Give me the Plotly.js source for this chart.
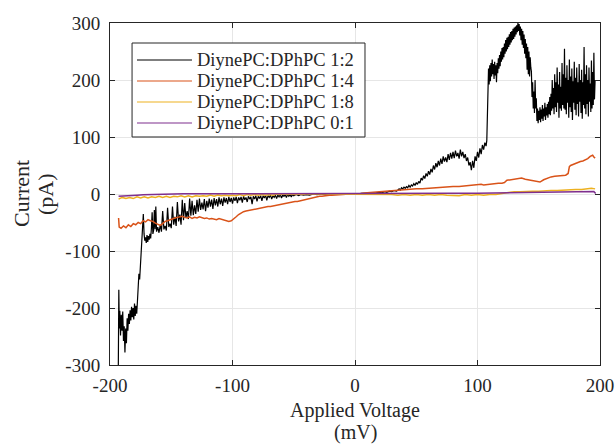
<!DOCTYPE html>
<html>
<head>
<meta charset="utf-8">
<script src="https://cdn.plot.ly/plotly-3.0.1.min.js"></script>
<style>
  html, body { margin: 0; padding: 0; background: #ffffff; }
  #chart { width: 616px; height: 445px; }
</style>
</head>
<body>
<div id="chart"></div>
<script>
// Current–voltage sweeps for DiynePC:DPhPC membranes at different ratios.

const seriesNames = ["DiynePC:DPhPC 1:2", "DiynePC:DPhPC 1:4", "DiynePC:DPhPC 1:8", "DiynePC:DPhPC 0:1"];
const seriesColors = ["#000000", "#D95319", "#EDB120", "#7E2F8E"];

const xTicks = [-200, -100, 0, 100, 200];
const yTicks = [-300, -200, -100, 0, 100, 200, 300];

const xTitleLines = ["Applied Voltage", "(mV)"];
const yTitleLines = ["Current", "(pA)"];

// 1:2 ratio — applied voltage (mV)
const v12 = [
  -193.2, -192.8, -192.4, -192, -191.4, -190.8, -190.2, -189.6, -189, -188.4,
  -187.8, -187.2, -186.6, -186, -185.4, -184.8, -184.2, -183.6, -183, -182.4,
  -181.8, -181.2, -180.6, -180, -179.4, -178.8, -178.2, -177.6, -177, -176.4,
  -175.8, -175.2, -174.6, -174, -173.4, -172.8, -172.2, -171.6, -171, -170.4,
  -169.8, -169.2, -168.6, -168, -167.4, -166.8, -166.2, -165.6, -165, -164.4,
  -163.8, -163.2, -162.6, -162, -161, -160, -159, -158, -157, -156,
  -155, -154, -153, -152, -151, -150, -149, -148, -147, -146,
  -145, -144, -143, -142, -141, -140, -139, -138, -137, -136,
  -135, -134, -133, -132, -131, -130, -129, -128, -127, -126,
  -125, -124, -123, -122, -121, -120, -119, -118, -117, -116,
  -115, -114, -113, -112, -111, -110, -109, -108, -107, -106,
  -105, -104, -103, -102, -101, -100, -99, -98, -97, -96,
  -95, -94, -93, -92, -91, -90, -89, -88, -87, -86,
  -85, -84, -83, -82, -81, -80, -79, -78, -77, -76,
  -75, -74, -73, -72, -71, -70, -69, -68, -67, -66,
  -65, -64, -63, -62, -61, -60, -59, -58, -57, -56,
  -55, -54, -53, -52, -51, -50, -48, -46, -44, -42,
  -40, -37, -34, -31, -28, -25, -22, -19, -16, -13,
  -10, -7, -4, -1, 2, 5, 8, 11, 14, 17,
  20, 22, 24, 26, 28, 30, 32, 34, 36, 37,
  38, 39, 40, 41, 42, 43, 44, 45, 46, 47,
  48, 49, 50, 51, 52, 53, 54, 55, 56, 57,
  58, 59, 60, 61, 62, 63, 64, 65, 66, 67,
  68, 69, 70, 71, 72, 73, 74, 75, 76, 77,
  78, 79, 80, 81, 82, 83, 84, 85, 86, 87,
  88, 89, 90, 91, 92, 93, 94, 95, 96, 97,
  98, 99, 100, 101, 102, 103, 104, 105, 106, 107,
  107.6, 108.2, 108.6, 109, 109.5, 110, 110.5, 111, 111.5, 112,
  112.5, 113, 113.5, 114, 114.5, 115, 115.5, 116, 116.5, 117,
  117.5, 118, 118.5, 119, 119.5, 120, 120.5, 121, 121.5, 122,
  122.5, 123, 123.5, 124, 124.5, 125, 125.5, 126, 126.5, 127,
  127.5, 128, 128.5, 129, 129.5, 130, 130.5, 131, 131.5, 132,
  132.5, 133, 133.5, 134, 134.5, 135, 135.5, 136, 136.5, 137,
  137.5, 138, 138.5, 139, 139.5, 140, 140.5, 141, 141.5, 142,
  142.5, 143, 143.5, 144, 144.5, 145, 145.5, 146, 146.5, 147,
  147.5, 148, 148.5, 149, 149.5, 150, 150.5, 151, 151.5, 152,
  152.5, 153, 153.5, 154, 154.5, 155, 155.5, 156, 156.5, 157,
  157.5, 158, 158.5, 159, 159.5, 160, 160.5, 161, 161.5, 162,
  162.5, 163, 163.5, 164, 164.5, 165, 165.5, 166, 166.5, 167,
  167.5, 168, 168.5, 169, 169.5, 170, 170.5, 171, 171.5, 172,
  172.5, 173, 173.5, 174, 174.5, 175, 175.5, 176, 176.5, 177,
  177.5, 178, 178.5, 179, 179.5, 180, 180.5, 181, 181.5, 182,
  182.5, 183, 183.5, 184, 184.5, 185, 185.5, 186, 186.5, 187,
  187.5, 188, 188.5, 189, 189.5, 190, 190.5, 191, 191.5, 192,
  192.5, 193, 193.5, 194, 194.5, 195, 195.5, 196
];
// 1:2 ratio — current (pA)
const i12 = [
  -300, -168, -236, -205, -248, -212, -240, -206, -258, -232,
  -278, -236, -262, -218, -240, -210, -228, -204, -222, -198,
  -216, -200, -220, -192, -214, -196, -210, -188, -170, -140,
  -150, -128, -100, -84, -40, -35, -70, -82, -76, -86,
  -72, -84, -74, -80, -70, -78, -60, -32, -70, -64,
  -28, -62, -22, -66, -58, -68, -54, -66, -30, -62,
  -56, -64, -24, -58, -52, -60, -22, -54, -40, -56,
  -14, -48, -36, -54, -10, -46, -16, -42, -30, -44,
  -8, -38, -12, -37, -20, -35, -10, -31, -8, -28,
  -15, -27, -9, -30, -12, -24, -8, -22, -10, -26,
  -7, -20, -9, -22, -6, -18, -8, -21, -6, -15,
  -7, -18, -5, -14, -7, -17, -6, -12, -5, -16,
  -6, -11, -5, -15, -4, -10, -6, -14, -4, -9,
  -5, -18, -4, -9, -3, -13, -4, -8, -3, -12,
  -3, -7, -2, -11, -3, -6, -2, -9, -3, -6,
  -2, -8, -2, -5, -1, -7, -2, -4, -1, -6,
  -1, -4, -1, -5, -1, -3, -1, -3, -1, -2,
  -1, -2, 0, -1, 0, -1, 0, 0, -1, 0,
  0, 0, 0, 0, 0, 1, 1, 1, 2, 2,
  3, 2, 4, 3, 5, 4, 6, 5, 9, 7,
  11, 9, 12, 10, 13, 11, 15, 12, 16, 14,
  18, 15, 20, 17, 22, 19, 28, 24, 32, 27,
  36, 31, 40, 34, 44, 38, 50, 43, 54, 47,
  58, 50, 62, 53, 66, 57, 64, 56, 70, 60,
  72, 62, 74, 63, 76, 66, 72, 62, 78, 66,
  74, 63, 70, 58, 64, 50, 56, 42, 58, 46,
  66, 58, 74, 64, 80, 70, 86, 78, 90, 84,
  94, 150, 196, 220, 192, 226, 198, 230, 206, 236,
  210, 228, 202, 232, 208, 226, 196, 230, 212, 238,
  220, 244, 224, 250, 232, 256, 236, 258, 240, 264,
  246, 270, 250, 274, 254, 276, 258, 280, 262, 284,
  266, 286, 270, 290, 272, 292, 276, 294, 280, 296,
  284, 300, 286, 298, 278, 294, 270, 290, 262, 286,
  256, 280, 246, 272, 238, 264, 218, 258, 210, 250,
  206, 240, 222, 215, 170, 196, 150, 180, 142, 200,
  150, 168, 128, 150, 124, 146, 130, 152, 126, 148,
  132, 156, 128, 150, 136, 160, 130, 152, 138, 158,
  134, 162, 140, 170, 138, 176, 146, 200, 150, 186,
  140, 210, 152, 196, 144, 222, 160, 192, 134, 214,
  150, 188, 146, 230, 156, 210, 150, 255, 148, 204,
  140, 226, 160, 200, 134, 236, 152, 206, 144, 220,
  130, 198, 160, 232, 148, 204, 138, 222, 158, 196,
  136, 228, 162, 200, 142, 218, 132, 196, 156, 258,
  150, 210, 140, 226, 158, 200, 136, 222, 162, 194,
  144, 234, 150, 214, 156, 248, 166, 200
];

// 1:4 ratio
const v14 = [
  -193, -192.5, -191, -189, -187, -185, -183, -181, -179, -177,
  -175, -173, -171, -169, -167, -165, -163, -161, -159, -157,
  -155, -153, -151, -149, -147, -145, -143, -141, -139, -137,
  -135, -133, -131, -129, -127, -125, -123, -121, -119, -117,
  -115, -113, -111, -109, -107, -105, -103, -101, -99, -97,
  -95, -93, -91, -89, -87, -85, -83, -81, -79, -77,
  -75, -73, -71, -69, -67, -65, -63, -61, -59, -57,
  -55, -53, -51, -49, -47, -45, -43, -41, -39, -37,
  -35, -33, -31, -29, -27, -25, -23, -21, -19, -17,
  -15, -13, -10, -5, 0, 5, 10, 15, 20, 25,
  30, 35, 40, 45, 50, 55, 60, 65, 70, 75,
  80, 85, 90, 95, 100, 103, 105, 108, 111, 114,
  117, 120, 122, 124, 127, 130, 133, 136, 139, 142,
  145, 148, 151, 154, 157, 160, 163, 166, 169, 172,
  174, 175, 176, 178, 180, 182, 184, 186, 188, 190,
  192, 194, 195, 196
];
const i14 = [
  -42, -58, -60, -56, -59, -54, -57, -52, -54, -50,
  -52, -47, -49, -45, -47, -48, -51, -53, -55, -52,
  -48, -47, -45, -44, -42, -41, -40, -39, -41, -42,
  -40, -43, -41, -42, -40, -41, -43, -42, -44, -43,
  -44, -45, -43, -44, -45, -46, -48, -47, -44, -40,
  -36, -33, -31, -30, -29, -28, -27, -26, -25, -25,
  -24, -23, -22, -22, -21, -20, -19, -18, -18, -17,
  -16, -15, -14, -13, -13, -12, -10, -9, -8, -7,
  -6, -5, -5, -4, -4, -3, -3, -2, -2, -2,
  -1, -1, -1, 0, 0, 1, 2, 3, 4, 5,
  5, 6, 7, 8, 9, 9, 10, 11, 11, 12,
  13, 13, 14, 15, 16, 17, 16, 17, 18, 18,
  19, 19, 20, 24, 25, 26, 27, 28, 26, 25,
  24, 22, 21, 25, 28, 30, 31, 32, 33, 33,
  36, 48, 50, 52, 54, 55, 57, 58, 60, 62,
  66, 68, 65, 63
];

// 1:8 ratio
const v18 = [
  -193, -190, -187, -184, -181, -178, -175, -172, -169, -166,
  -163, -160, -157, -154, -151, -148, -145, -142, -139, -136,
  -133, -130, -127, -124, -121, -118, -115, -112, -109, -106,
  -103, -100, -97, -94, -91, -88, -85, -82, -79, -76,
  -73, -70, -67, -64, -61, -58, -55, -52, -49, -46,
  -43, -40, -35, -30, -25, -20, -15, -10, -5, 0,
  5, 10, 15, 20, 25, 30, 35, 40, 45, 50,
  55, 60, 65, 70, 75, 80, 85, 90, 95, 100,
  105, 110, 115, 120, 125, 130, 135, 140, 145, 150,
  155, 160, 165, 170, 175, 180, 185, 190, 193, 196
];
const i18 = [
  -9, -6, -8, -6, -8, -5, -7, -5, -7, -5,
  -6, -4, -6, -4, -6, -4, -5, -3, -5, -3,
  -5, -3, -4, -3, -4, -2, -4, -2, -3, -2,
  -3, -2, -3, -1, -3, -1, -2, -1, -2, -1,
  -2, -1, -2, 0, -1, 0, -1, 0, -1, 0,
  -1, 0, 0, 0, -1, 0, 0, -1, 0, 0,
  -1, 0, -1, 0, -1, -1, -2, -1, -2, -1,
  -2, -1, -2, -1, -2, -2, -3, -1, -2, -1,
  -2, -1, -1, 1, 3, 4, 4, 5, 5, 5,
  6, 6, 6, 7, 7, 8, 8, 9, 10, 9
];

// 0:1 ratio (pure DPhPC)
const v01 = [
  -193, -188, -183, -178, -173, -168, -163, -158, -153, -148,
  -140, -130, -120, -100, -80, -60, -40, -20, 0, 20,
  40, 60, 80, 100, 120, 140, 160, 180, 190, 195, 196.5
];
const i01 = [
  -4, -3, -2.5, -2, -1.5, -1, -0.6, -0.3, 0, 0.2,
  0.3, 0.3, 0.2, 0.2, 0.1, 0.1, 0, 0, 0, 0.3,
  0.6, 0.9, 1.2, 1.5, 2, 2.5, 3, 3.6, 4, 4.2, 1
];

const voltages = [v12, v14, v18, v01];
const currents = [i12, i14, i18, i01];
const lineWidths = [1.2, 1.5, 1.5, 1.5];

const serif = "'Liberation Serif', 'Times New Roman', serif";
const ink = "#262626";

const traces = seriesNames.map((name, k) => ({
  type: "scatter",
  mode: "lines",
  name: name,
  x: voltages[k],
  y: currents[k],
  line: { color: seriesColors[k], width: lineWidths[k] },
  showlegend: false,
  hoverinfo: "skip"
}));

// Boxed legend in the upper-left corner of the axes
const legendBox = { x0: 0.045, x1: 0.5204, y0: 0.6667, y1: 0.9415 };
const legendRows = [0.8918, 0.8304, 0.7690, 0.7076];
const legendLine = { x0: 0.0551, x1: 0.1673 };
const legendTextX = 0.1735;

const shapes = [{
  type: "rect", xref: "paper", yref: "paper",
  x0: legendBox.x0, x1: legendBox.x1, y0: legendBox.y0, y1: legendBox.y1,
  line: { color: ink, width: 1 }, fillcolor: "#ffffff", layer: "above"
}];
const annotations = [];
seriesNames.forEach((name, k) => {
  shapes.push({
    type: "line", xref: "paper", yref: "paper",
    x0: legendLine.x0, x1: legendLine.x1, y0: legendRows[k], y1: legendRows[k],
    line: { color: seriesColors[k], width: 1.2 }, layer: "above"
  });
  annotations.push({
    xref: "paper", yref: "paper", x: legendTextX, y: legendRows[k],
    xanchor: "left", yanchor: "middle", showarrow: false, text: name,
    font: { family: serif, size: 18.5, color: ink }
  });
});

// Two-line axis titles
annotations.push(
  { xref: "paper", yref: "paper", x: 0.5, y: -0.1316, xanchor: "center", yanchor: "middle",
    showarrow: false, text: xTitleLines[0], font: { family: serif, size: 20, color: ink } },
  { xref: "paper", yref: "paper", x: 0.5, y: -0.1988, xanchor: "center", yanchor: "middle",
    showarrow: false, text: xTitleLines[1], font: { family: serif, size: 20, color: ink } },
  { xref: "paper", yref: "paper", x: -0.1816, y: 0.5, xanchor: "center", yanchor: "middle",
    textangle: -90, showarrow: false, text: yTitleLines[0], font: { family: serif, size: 22, color: ink } },
  { xref: "paper", yref: "paper", x: -0.1327, y: 0.5, xanchor: "center", yanchor: "middle",
    textangle: -90, showarrow: false, text: yTitleLines[1], font: { family: serif, size: 22, color: ink } }
);

const axisCommon = {
  showgrid: true,
  gridcolor: "#e6e6e6",
  gridwidth: 1,
  zeroline: false,
  showline: true,
  linecolor: ink,
  linewidth: 1,
  mirror: "allticks",
  ticks: "inside",
  ticklen: 5,
  tickwidth: 1,
  tickcolor: ink,
  tickfont: { family: serif, size: 19, color: ink },
  tickmode: "array"
};

const layout = {
  width: 616,
  height: 445,
  margin: { l: 110, r: 16, t: 23, b: 80 },
  paper_bgcolor: "#ffffff",
  plot_bgcolor: "#ffffff",
  showlegend: false,
  xaxis: Object.assign({}, axisCommon, {
    range: [-200, 200],
    tickvals: xTicks,
    ticktext: xTicks.map(String),
    ticklabelstandoff: 3
  }),
  yaxis: Object.assign({}, axisCommon, {
    range: [-300, 300],
    tickvals: yTicks,
    ticktext: yTicks.map(String),
    ticklabelstandoff: 5
  }),
  shapes: shapes,
  annotations: annotations
};

Plotly.newPlot("chart", traces, layout, { displayModeBar: false, staticPlot: true });
</script>
</body>
</html>
